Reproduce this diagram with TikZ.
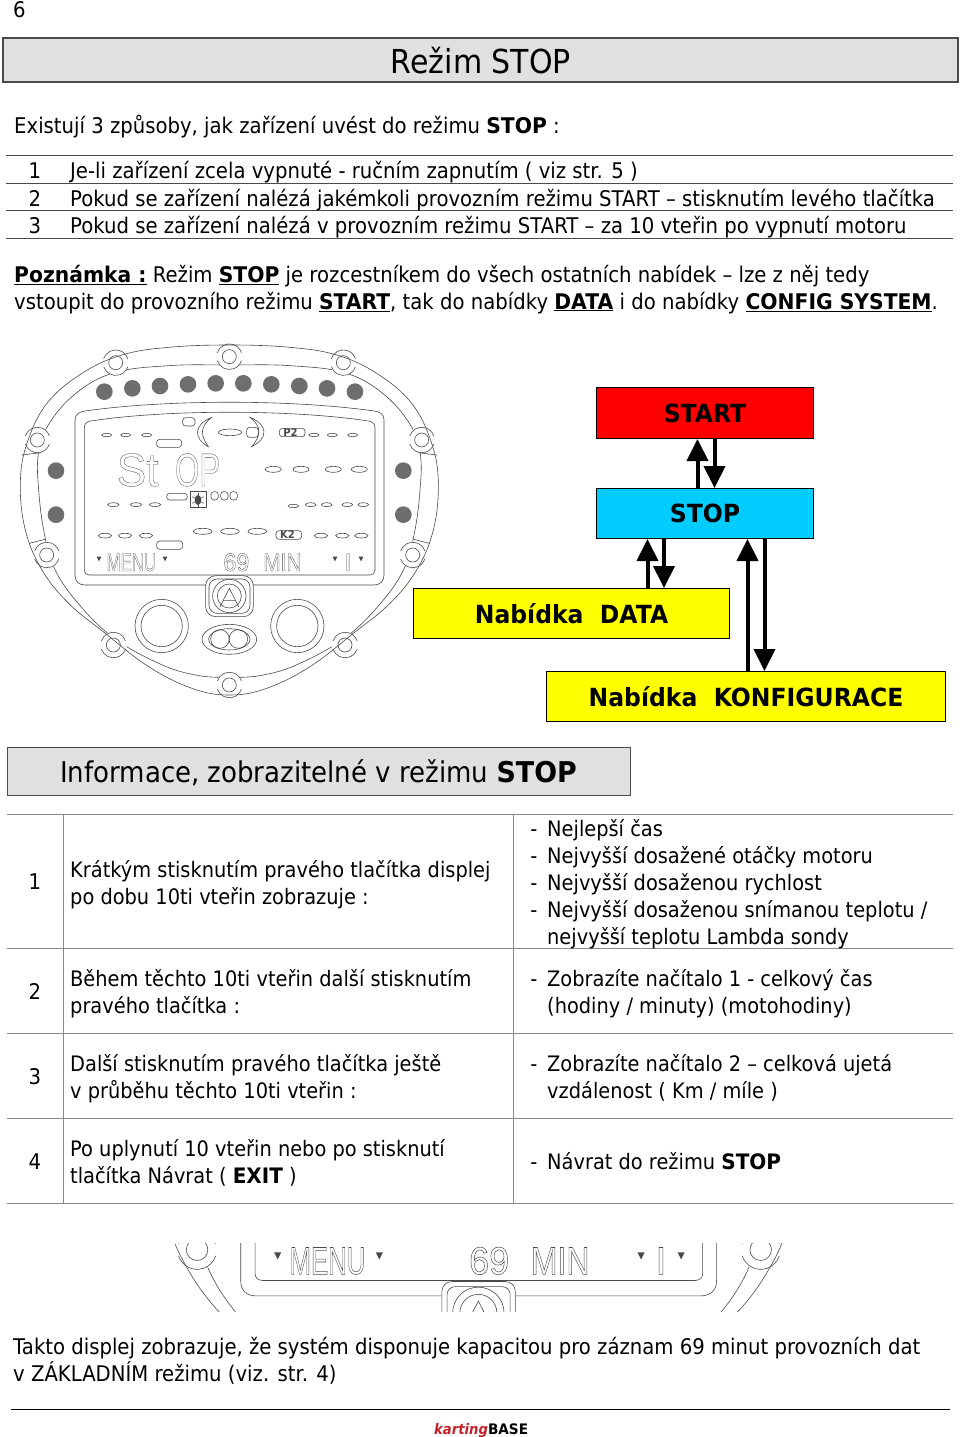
\documentclass[tikz,border=0pt]{standalone}
\usepackage{fontspec}
\usepackage{xcolor}
\usetikzlibrary{arrows.meta}
\setmainfont[FakeStretch=0.91,BoldFeatures={FakeStretch=0.94}]{DejaVu Sans}
\newfontfamily\lcdfont{Liberation Sans}
\definecolor{headgray}{HTML}{E0E0E0}
\definecolor{linegray}{HTML}{4A4A4A}
\definecolor{ledgray}{HTML}{6E6E6E}
\definecolor{rulegray}{HTML}{8A8A8A}
\definecolor{startred}{HTML}{FF0000}
\definecolor{stopblue}{HTML}{00CCFF}
\definecolor{menuyellow}{HTML}{FFFF00}
\definecolor{logored}{HTML}{C8202A}
\tikzset{
    page-text/.style = {anchor=base west, inner sep=0pt, font=\fontsize{21.6}{27}\selectfont},
    cell-text/.style = {page-text, font=\fontsize{21.3}{27}\selectfont},
    num-text/.style = {anchor=base, inner sep=0pt, font=\fontsize{21.6}{27}\selectfont},
    head-box/.style = {draw=linegray, fill=headgray, line width=1.3pt},
    mode-box/.style = {draw=black, line width=1pt, font=\fontsize{25}{30}\selectfont\bfseries, inner sep=0pt},
    flow-arrow/.style = {line width=4pt, -{Triangle[width=21pt,length=22pt]}},
    table-rule/.style = {draw=rulegray, line width=1pt},
    dash-line/.style = {draw=linegray, line width=.6pt},
    dash-boss/.style = {dash-line, fill=white},
    dash-led/.style = {circle, fill=ledgray, minimum size=50pt, inner sep=0pt},
    lcd-text/.style = {inner sep=0pt, anchor=base west, transform shape, text=linegray},
}
% outlined letters for the display
\newcommand{\lcdout}[1]{\special{pdf:code q 1 Tr 1 w 0.29 G}#1\special{pdf:code Q}}
% the instrument face, in coordinates of 3 units per pixel; #1 prefixes the node names
\newcommand{\dashface}[1]{
    % rim
    \draw[dash-line] plot[smooth cycle, tension=.65] coordinates {(688,75) (870,77) (1040,100) (1160,170) (1240,270) (1262,350) (1260,450) (1245,570) (1215,680) (1150,780) (1040,890) (900,970) (790,1005) (688,1012) (586,1005) (476,970) (336,890) (226,780) (161,680) (131,570) (116,450) (114,350) (136,270) (216,170) (336,100) (506,77)};
    \foreach \x/\y in {347/68, 688/50, 1030/68, 112/300, 1265/300, 140/645, 1238/645, 340/915, 1035/915, 688/1035} {
        \fill[white] (\x,\y) circle (40);
        \draw[dash-line] (\x,\y) circle (21);
        \draw[dash-line] (\x,\y) ++(-36,-12) arc (198:342:38);
        \draw[dash-line] (\x,\y) ++(-36,12) arc (162:18:38);
    }
    \draw[dash-line] plot[smooth cycle, tension=.65] coordinates {(688,15) (870,22) (1010,45) (1130,100) (1235,190) (1295,310) (1315,430) (1300,570) (1250,690) (1170,790) (1060,880) (930,980) (800,1045) (688,1065) (576,1045) (446,980) (316,880) (206,790) (126,690) (76,570) (61,430) (81,310) (141,190) (246,100) (366,45) (506,22)};
    \draw[dash-line] (65,345) -- (122,338) (1311,345) -- (1254,338) (88,610) -- (135,598) (1288,610) -- (1241,598);
    % leds
    \foreach \x/\y [count=\i] in {313/155, 397/145, 480/138, 564/133, 647/130, 730/130, 814/133, 898/138, 981/145, 1065/155, 168/392, 168/524, 1210/392, 1210/524}
        \node[dash-led, transform shape] (#1led\i) at (\x,\y) {};
    % display frames
    \draw[dash-line] (225,240) .. controls (225,222) and (240,215) .. (255,213) .. controls (500,178) and (876,178) .. (1122,213) .. controls (1140,215) and (1152,222) .. (1152,240) -- (1152,705) .. controls (1152,725) and (1140,735) .. (1120,735) -- (255,735) .. controls (237,735) and (225,725) .. (225,705) -- cycle;
    \draw[dash-line] (253,262) .. controls (253,250) and (262,245) .. (272,243) .. controls (500,208) and (876,208) .. (1105,243) .. controls (1116,245) and (1125,250) .. (1125,262) -- (1125,692) .. controls (1125,700) and (1118,705) .. (1110,705) -- (268,705) .. controls (260,705) and (253,700) .. (253,692) -- cycle;
    % segments
    \foreach \x/\y/\rx/\ry in {320/285/15/5, 377/285/15/5, 440/285/15/5, 942/285/15/5, 997/285/15/5, 1058/285/15/5, 690/277/35/10, 820/388/24/9, 903/388/24/9, 1000/388/24/9, 1078/388/24/9, 340/494/17/6, 408/494/17/6, 465/494/17/6, 880/498/16/5, 932/494/16/6, 980/494/16/6, 1042/494/16/6, 1090/494/16/6, 315/587/20/7, 375/587/20/7, 438/587/20/7, 608/574/28/9, 690/574/28/9, 772/574/28/9, 963/587/20/7, 1027/587/20/7, 1084/587/20/7}
        \draw[dash-line] (\x,\y) ellipse ({\rx} and {\ry});
    % tags
    \foreach \xa/\ya/\xb/\yb in {470/298/545/322, 470/603/548/628, 500/460/562/480, 838/265/915/290, 828/572/905/598, 548/233/585/258, 740/262/775/292, 633/455/655/480, 662/455/684/480, 690/455/712/480}
        \draw[dash-line, rounded corners=3] (\xa,\ya) rectangle (\xb,\yb);
    \node[lcd-text, font=\fontsize{32}{32}\selectfont\bfseries] (#1tagp) at (850,288) {P2};
    \node[lcd-text, font=\fontsize{32}{32}\selectfont\bfseries] (#1tagk) at (840,596) {K2};
    % brackets
    \draw[dash-line] (635,232) .. controls (580,255) and (580,295) .. (625,320) .. controls (600,285) and (600,260) .. cycle;
    \draw[dash-line] (750,232) .. controls (805,255) and (805,295) .. (755,320) .. controls (785,285) and (785,260) .. cycle;
    % bug icon
    \draw[dash-line] (571,455) rectangle (618,503);
    \fill[linegray] (594,480) ellipse (10 and 15);
    \foreach \a in {30,90,150,210,270,330}
        \draw[linegray, line width=.5pt] (594,480) -- ++(\a:20);
    % big readings
    \node[lcd-text, font=\fontsize{140}{140}\lcdfont\selectfont] (#1st) at (350,438) {\scalebox{.95}[1]{\lcdout{St}}};
    \node[lcd-text, font=\fontsize{140}{140}\lcdfont\selectfont] (#1op) at (525,438) {\scalebox{.67}[1]{\lcdout{OP}}};
    \node[lcd-text, font=\fontsize{76}{76}\lcdfont\selectfont] (#1menu) at (320,693) {\scalebox{.66}[1]{\lcdout{MENU}}};
    \node[lcd-text, font=\fontsize{76}{76}\lcdfont\selectfont] (#1time) at (670,693) {\scalebox{.92}[1]{\lcdout{69}}};
    \node[lcd-text, font=\fontsize{76}{76}\lcdfont\selectfont] (#1unit) at (790,693) {\scalebox{.82}[1]{\lcdout{MIN}}};
    \node[lcd-text, font=\fontsize{76}{76}\lcdfont\selectfont] (#1item) at (1033,693) {\lcdout{I}};
    \foreach \x in {297,495,1005,1083}
        \fill[linegray] (\x-7,650) -- (\x+7,650) -- (\x,664) -- cycle;
    % logo button
    \draw[dash-boss, rounded corners=10] (617,707) rectangle (760,830);
    \draw[dash-line, rounded corners=8] (627,717) rectangle (750,820);
    \draw[dash-line] (688,768) circle (50);
    \draw[dash-line] (688,768) circle (36);
    \draw[dash-line] (660,800) -- (688,745) -- (716,800) (670,782) -- (706,782);
    % buttons
    \foreach \x in {485,892} {
        \draw[dash-line] (\x,858) circle (80);
        \draw[dash-line] (\x,858) circle (62);
    }
    \draw[dash-line] (688,898) ellipse (82 and 45);
    \draw[dash-line] (688,898) ellipse (62 and 32);
    \draw[dash-line] (660,897) circle (28);
    \draw[dash-line] (715,897) circle (28);
}
\begin{document}
\begin{tikzpicture}[x=1pt,y=-1pt]
\useasboundingbox (0,0) rectangle (960,1437);

% header
\node[page-text] (pagenum) at (13,18) {6};
\draw[head-box] (3,38) rectangle (958,82);
\node[anchor=base, inner sep=0pt, font=\fontsize{33}{38}\selectfont] (title) at (481,74) {Režim STOP};
\node[page-text] (intro) at (14,133) {Existují 3 způsoby, jak zařízení uvést do režimu \textbf{STOP} :};

% ways list
\foreach \y in {155,183,210,238}
    \draw[draw=linegray, line width=1pt] (6,\y) -- (953,\y);
\node[num-text] (waynum1) at (35,178) {1};
\node[num-text] (waynum2) at (35,206) {2};
\node[num-text] (waynum3) at (35,233) {3};
\node[page-text] (way1) at (70,178) {Je-li zařízení zcela vypnuté - ručním zapnutím ( viz str. 5 )};
\node[page-text] (way2) at (70,206) {Pokud se zařízení nalézá jakémkoli provozním režimu START – stisknutím levého tlačítka};
\node[page-text] (way3) at (70,233) {Pokud se zařízení nalézá v provozním režimu START – za 10 vteřin po vypnutí motoru};

\node[page-text] (note1) at (14,282) {\underline{\textbf{Poznámka :}} Režim \underline{\textbf{STOP}} je rozcestníkem do všech ostatních nabídek – lze z něj tedy};
\node[page-text] (note2) at (14,309) {vstoupit do provozního režimu \underline{\textbf{START}}, tak do nabídky \underline{\textbf{DATA}} i do nabídky \underline{\textbf{CONFIG SYSTEM}}.};

% instrument
\begin{scope}[shift={(0,340)}, scale=1/3]
\dashface{big}
\end{scope}

% mode boxes
\node[mode-box, fill=startred, minimum width=217pt, minimum height=51pt] (start) at (705,413) {START};
\node[mode-box, fill=stopblue, minimum width=217pt, minimum height=50pt] (stop) at (705,513.5) {STOP};
\node[mode-box, fill=menuyellow, minimum width=316pt, minimum height=50pt] (data) at (571.5,613.5) {Nabídka\ \ DATA};
\node[mode-box, fill=menuyellow, minimum width=399pt, minimum height=50pt] (config) at (746,696.5) {Nabídka\ \ KONFIGURACE};
\draw[flow-arrow] ([xshift=-7.5pt]stop.north) -- ([xshift=-7.5pt]start.south);
\draw[flow-arrow] ([xshift=9.5pt]start.south) -- ([xshift=9.5pt]stop.north);
\draw[flow-arrow] ([xshift=76pt]data.north) -- ([xshift=-57.5pt]stop.south);
\draw[flow-arrow] ([xshift=-41pt]stop.south) -- ([xshift=92.5pt]data.north);
\draw[flow-arrow] ([xshift=1.5pt]config.north) -- ([xshift=42.5pt]stop.south);
\draw[flow-arrow] ([xshift=59.5pt]stop.south) -- ([xshift=18.5pt]config.north);

% info table
\draw[head-box, line width=1pt] (7,747) rectangle (630,795);
\node[page-text, font=\fontsize{28.6}{36}\selectfont] (infohead) at (60,782) {Informace, zobrazitelné v režimu \textbf{STOP}};
\foreach \y in {814,948,1033,1118,1203}
    \draw[table-rule] (7,\y) -- (953,\y);
\foreach \x in {63,513}
    \draw[table-rule] (\x,814) -- (\x,1203);

\node[num-text] (rownum1) at (35,889) {1};
\node[num-text] (rownum2) at (35,999) {2};
\node[num-text] (rownum3) at (35,1084) {3};
\node[num-text] (rownum4) at (35,1169) {4};

\node[cell-text] (act1a) at (70,877) {Krátkým stisknutím pravého tlačítka displej};
\node[cell-text] (act1b) at (70,904) {po dobu 10ti vteřin zobrazuje :};
\node[cell-text] (act2a) at (70,986) {Během těchto 10ti vteřin další stisknutím};
\node[cell-text] (act2b) at (70,1013) {pravého tlačítka :};
\node[cell-text] (act3a) at (70,1071) {Další stisknutím pravého tlačítka ještě};
\node[cell-text] (act3b) at (70,1098) {v průběhu těchto 10ti vteřin :};
\node[cell-text] (act4a) at (70,1156) {Po uplynutí 10 vteřin nebo po stisknutí};
\node[cell-text] (act4b) at (70,1183) {tlačítka Návrat ( \textbf{EXIT} )};

\foreach \y [count=\i] in {836,863,890,917,986,1071,1169}
    \node[num-text] (bullet\i) at (534,\y) {-};
\node[cell-text] (res1a) at (547,836) {Nejlepší čas};
\node[cell-text] (res1b) at (547,863) {Nejvyšší dosažené otáčky motoru};
\node[cell-text] (res1c) at (547,890) {Nejvyšší dosaženou rychlost};
\node[cell-text] (res1d) at (547,917) {Nejvyšší dosaženou snímanou teplotu /};
\node[cell-text] (res1e) at (547,944) {nejvyšší teplotu Lambda sondy};
\node[cell-text] (res2a) at (547,986) {Zobrazíte načítalo 1 - celkový čas};
\node[cell-text] (res2b) at (547,1013) {(hodiny / minuty) (motohodiny)};
\node[cell-text] (res3a) at (547,1071) {Zobrazíte načítalo 2 – celková ujetá};
\node[cell-text] (res3b) at (547,1098) {vzdálenost ( Km / míle )};
\node[cell-text] (res4a) at (547,1169) {Návrat do režimu \textbf{STOP}};

% display detail
\begin{scope}
\clip (175,1243) rectangle (785,1311);
\begin{scope}[shift={(125.2,395)}, scale=1.54/3, shift={(0,1020)}]
\dashface{small}
\end{scope}
\end{scope}

% footer
\node[page-text] (end1) at (13,1354) {Takto displej zobrazuje, že systém disponuje kapacitou pro záznam 69 minut provozních dat};
\node[page-text] (end2) at (13,1381) {v ZÁKLADNÍM režimu (viz. str. 4)};
\draw[draw=black, line width=.9pt] (11,1409) -- (950,1409);
\node[page-text, font=\fontsize{14.5}{15}\selectfont\bfseries] (logo) at (434,1434) {\textcolor{logored}{\itshape karting}BASE};
\end{tikzpicture}
\end{document}
